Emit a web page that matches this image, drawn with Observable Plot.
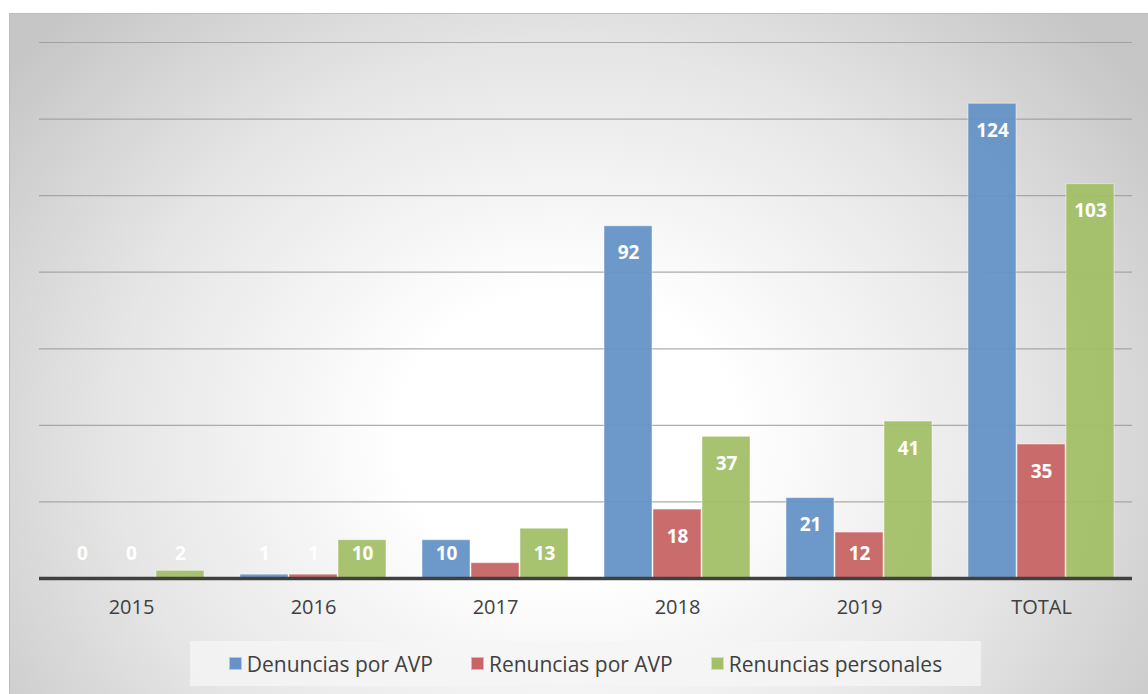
<!DOCTYPE html>
<html>
<head>
<meta charset="utf-8">
<script src="https://cdn.jsdelivr.net/npm/d3@7"></script>
<script src="https://cdn.jsdelivr.net/npm/@observablehq/plot@0.6"></script>
<style>
  html, body { margin: 0; padding: 0; background: #fff; }
  #page { position: relative; width: 1148px; height: 694px; overflow: hidden; background: #fff; }
  #area { position: absolute; left: 9px; top: 13px; width: 1139px; height: 681px;
    border-top: 1px solid #bdbdbd; border-left: 1px solid #bdbdbd; box-sizing: border-box;
    background: radial-gradient(ellipse 62% 88% at 49% 62%, #ffffff 0%, #ffffff 24%, #e6e6e6 64%, #c6c6c6 100%); }
  .layer { position: absolute; left: 0; top: 0; }
  #legend { position: absolute; left: 190px; top: 641px; width: 791px; height: 45px;
    background: rgba(246,246,246,0.75); display: flex; align-items: center; justify-content: center;
    gap: 38px; font-family: "Open Sans", Lato, sans-serif; font-size: 21px; color: #404040; }
  #legend .item { display: flex; align-items: center; gap: 5px; }
  #legend .sw { width: 13px; height: 13px; display: inline-block; box-sizing: border-box; border: 1px solid rgba(255,255,255,0.5); }
</style>
</head>
<body>
<div id="page">
  <div id="area"></div>
  <div id="grid" class="layer"></div>
  <div id="chart" class="layer"></div>
  <div id="axis" class="layer"></div>
  <div id="legend"></div>
</div>
<script>
const categories = ["2015", "2016", "2017", "2018", "2019", "TOTAL"];
const seriesNames = ["Denuncias por AVP", "Renuncias por AVP", "Renuncias personales"];
const denunciasAVP = [0, 1, 10, 92, 21, 124];
const renunciasAVP = [0, 1, 4, 18, 12, 35];
const renunciasPersonales = [2, 10, 13, 37, 41, 103];
const colors = ["#6592c7", "#c86464", "#a3c068"];
const yTicks = [20, 40, 60, 80, 100, 120, 140];

const seriesValues = [denunciasAVP, renunciasAVP, renunciasPersonales];
const data = [];
categories.forEach((c, i) => {
  seriesNames.forEach((s, j) => data.push({category: c, series: s, value: seriesValues[j][i]}));
});

const frame = {
  width: 1148, height: 623,
  marginLeft: 39, marginRight: 16, marginTop: 42, marginBottom: 45,
  style: {background: "transparent", fontFamily: "'Open Sans', Lato, sans-serif"},
  y: {domain: [0, 140], axis: null}
};

// gridlines behind the bars
document.getElementById("grid").appendChild(Plot.plot({
  ...frame,
  marks: [Plot.ruleY(yTicks, {stroke: "#999999", strokeWidth: 1.2, strokeOpacity: 0.8})]
}));

// bars, labels and category axis
document.getElementById("chart").appendChild(Plot.plot({
  ...frame,
  fx: {domain: categories, paddingInner: 0.176, paddingOuter: 0.088, label: null},
  x: {domain: seriesNames, padding: 0.012, axis: null},
  color: {domain: seriesNames, range: colors},
  marks: [
    Plot.axisFx({anchor: "bottom", tickSize: 0, tickPadding: 21, fontSize: 20, fill: "#404040", label: null}),
    Plot.barY(data, {fx: "category", x: "series", y: "value", fill: "series", fillOpacity: 0.95,
      stroke: "#ffffff", strokeOpacity: 0.45, strokeWidth: 1}),
    Plot.text(data, {fx: "category", x: "series", y: d => Math.max(d.value, 13.6), dy: 27,
      text: d => String(d.value), fill: "white", fontWeight: "bold", fontSize: 19})
  ]
}));

// baseline on top
document.getElementById("axis").appendChild(Plot.plot({
  ...frame,
  marks: [Plot.ruleY([0], {stroke: "#404040", strokeWidth: 3.5})]
}));

const legend = document.getElementById("legend");
seriesNames.forEach((s, j) => {
  const it = document.createElement("div");
  it.className = "item";
  const sw = document.createElement("span");
  sw.className = "sw";
  sw.style.background = colors[j];
  it.appendChild(sw);
  const t = document.createElement("span");
  t.textContent = s;
  it.appendChild(t);
  legend.appendChild(it);
});
</script>
</body>
</html>
